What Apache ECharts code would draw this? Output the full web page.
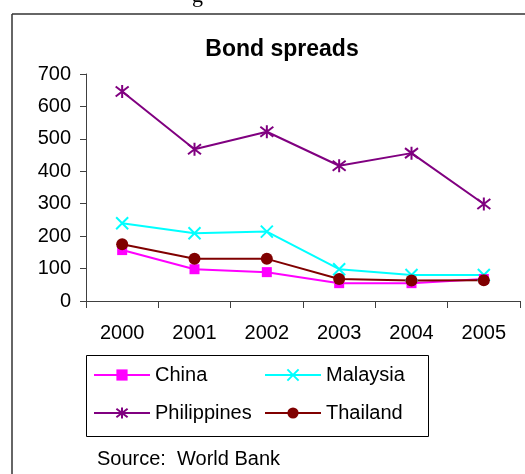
<!DOCTYPE html>
<html>
<head>
<meta charset="utf-8">
<script src="https://cdn.jsdelivr.net/npm/echarts@6/dist/echarts.min.js"></script>
<style>
html,body{margin:0;padding:0;background:#fff;}
#chart{width:525px;height:474px;}
</style>
</head>
<body>
<div id="chart"></div>
<script>
var years = ['2000', '2001', '2002', '2003', '2004', '2005'];
var china = [157, 98, 89, 55, 55, 68];
var malaysia = [240, 209, 214, 98, 80, 80];
var philippines = [646, 468, 522, 417, 456, 299];
var thailand = [175, 130, 130, 68, 63, 64];
var yTicks = [0, 100, 200, 300, 400, 500, 600, 700];

var FONT = '"Liberation Sans", Arial, sans-serif';
var chart = echarts.init(document.getElementById('chart'), null, {renderer: 'canvas'});

var xPath = 'path://M0,0L10,10M10,0L0,10';
var starPath = 'path://M0,0L10,10M10,0L0,10M5,-1.5L5,11.5';

function mk(name, data, color, symbol, size, stroke) {
  return {
    name: name,
    type: 'line',
    data: data,
    symbol: symbol,
    symbolSize: size,
    lineStyle: {color: color, width: 2},
    itemStyle: stroke ? {color: color, borderColor: color, borderWidth: 2} : {color: color},
    emphasis: {disabled: true},
    animation: false
  };
}

chart.setOption({
  animation: false,
  backgroundColor: '#ffffff',
  title: {
    text: 'Bond spreads',
    left: 277, top: 33, textAlign: 'center',
    textStyle: {fontFamily: FONT, fontSize: 23, fontWeight: 'bold', color: '#000'}
  },
  grid: {left: 86, right: 5, top: 74, bottom: 173, containLabel: false},
  xAxis: {
    type: 'category',
    data: years,
    boundaryGap: true,
    axisLine: {lineStyle: {color: '#404040', width: 1}},
    axisTick: {show: true, length: 7, inside: false, lineStyle: {color: '#404040'}},
    axisLabel: {fontFamily: FONT, fontSize: 20, color: '#000', margin: 22}
  },
  yAxis: {
    type: 'value',
    min: yTicks[0], max: yTicks[yTicks.length - 1], interval: 100,
    splitLine: {show: false},
    axisLine: {show: true, lineStyle: {color: '#404040', width: 1}},
    axisTick: {show: true, length: 6, lineStyle: {color: '#404040'}},
    axisLabel: {fontFamily: FONT, fontSize: 20, color: '#000', margin: 15}
  },
  legend: [
    {
      data: ['China', 'Philippines'], orient: 'vertical', left: 93, top: 365, padding: 0,
      itemWidth: 56, itemHeight: 14, itemGap: 18,
      textStyle: {fontFamily: FONT, fontSize: 20, color: '#000'},
      selectedMode: false
    },
    {
      data: ['Malaysia', 'Thailand'], orient: 'vertical', left: 264, top: 365, padding: 0,
      itemWidth: 56, itemHeight: 14, itemGap: 18,
      textStyle: {fontFamily: FONT, fontSize: 20, color: '#000'},
      selectedMode: false
    }
  ],
  graphic: [
    {type: 'line', shape: {x1: 12, y1: 14, x2: 525, y2: 14}, style: {stroke: '#333', lineWidth: 1.5}, silent: true},
    {type: 'line', shape: {x1: 12, y1: 14, x2: 12, y2: 474}, style: {stroke: '#333', lineWidth: 1.5}, silent: true},
    {type: 'rect', shape: {x: 86.5, y: 355.5, width: 342, height: 81}, style: {fill: 'none', stroke: '#000', lineWidth: 1}, silent: true},
    {type: 'text', left: 97, top: 449, style: {text: 'Source:  World Bank', font: '20px ' + FONT, fill: '#000'}, silent: true},
    {type: 'text', x: 192, y: 7, style: {text: 'g', font: '22px "Liberation Serif", serif', fill: '#000', verticalAlign: 'bottom'}, silent: true}
  ],
  series: [
    mk('China', china, '#FF00FF', 'rect', 10, false),
    mk('Malaysia', malaysia, '#00FFFF', xPath, 12, true),
    mk('Philippines', philippines, '#800080', starPath, 13, true),
    mk('Thailand', thailand, '#800000', 'circle', 12, false)
  ]
});
</script>
</body>
</html>
